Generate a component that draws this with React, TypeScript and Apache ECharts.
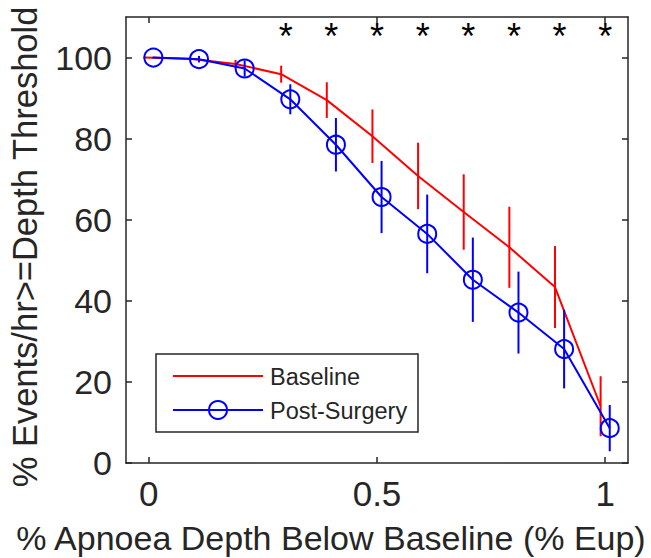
import React, { useEffect, useRef } from "react";
import * as echarts from "echarts";

// ---- data ----
const depths = [0, 0.1, 0.2, 0.3, 0.4, 0.5, 0.6, 0.7, 0.8, 0.9, 1.0];
const baselineMean = [100, 99.7, 98.4, 95.9, 89.5, 80.6, 70.8, 61.9, 53.2, 43.4, 14.0];
const baselineErr = [0.2, 0.4, 1.0, 2.1, 4.4, 6.6, 8.2, 9.3, 10.0, 10.1, 7.4];
const postMean = [100, 99.6, 97.3, 89.7, 78.5, 65.6, 56.5, 45.2, 37.1, 28.1, 8.6];
const postErr = [0.2, 0.8, 2.0, 3.7, 6.6, 8.9, 9.7, 10.4, 10.1, 9.7, 5.7];
const sigDepths = [0.3, 0.4, 0.5, 0.6, 0.7, 0.8, 0.9, 1.0];
const sigLevel = 105.2;
const xTicks = [0, 0.5, 1];
const yTicks = [0, 20, 40, 60, 80, 100];
const seriesNames = ["Baseline", "Post-Surgery"];

const FONT = "Liberation Sans, Arial, Helvetica, sans-serif";
const INK = "#262626";
const RED = "#ff0000";
const BLUE = "#0000ff";
const DODGE = 0.01;

export default function App() {
  const ref = useRef<HTMLDivElement>(null);

  useEffect(() => {
    if (!ref.current) return;
    const chart = echarts.init(ref.current, null, { renderer: "svg" });

    const redPts = depths.map((d, i) => [d - DODGE, baselineMean[i]]);
    const bluePts = depths.map((d, i) => [d + DODGE, postMean[i]]);
    const redBars = depths.map((d, i) => [d - DODGE, baselineMean[i] - baselineErr[i], baselineMean[i] + baselineErr[i]]);
    const blueBars = depths.map((d, i) => [d + DODGE, postMean[i] - postErr[i], postMean[i] + postErr[i]]);
    const stars = sigDepths.map((d) => [d, sigLevel]);

    const errRender = (color: string) => (params: any, api: any) => {
      const x = api.value(0);
      const p1 = api.coord([x, api.value(1)]);
      const p2 = api.coord([x, api.value(2)]);
      return {
        type: "line",
        shape: { x1: p1[0], y1: p1[1], x2: p2[0], y2: p2[1] },
        style: { stroke: color, lineWidth: 2 },
      };
    };

    const baseX = {
      type: "value",
      min: -0.05,
      max: 1.05,
      splitLine: { show: false },
      axisLine: { show: true, onZero: false, lineStyle: { color: INK, width: 1.5 } },
      axisTick: { show: true, inside: true, length: 6, customValues: xTicks, lineStyle: { color: INK, width: 1.5 } },
    };
    const baseY = {
      type: "value",
      min: 0,
      max: 110,
      splitLine: { show: false },
      axisLine: { show: true, onZero: false, lineStyle: { color: INK, width: 1.5 } },
      axisTick: { show: true, inside: true, length: 6, customValues: yTicks, lineStyle: { color: INK, width: 1.5 } },
    };

    chart.setOption({
      animation: false,
      backgroundColor: "#ffffff",
      textStyle: { fontFamily: FONT },
      grid: { left: 126, top: 17, right: 23, bottom: 95, containLabel: false, outerBoundsMode: "none" },
      xAxis: [
        {
          ...baseX,
          position: "bottom",
          axisLabel: {
            show: true,
            customValues: xTicks,
            formatter: (v: number) => String(v),
            color: INK,
            fontSize: 35,
            fontFamily: FONT,
            margin: 13,
          },
          name: "% Apnoea Depth Below Baseline (% Eup)",
          nameLocation: "middle",
          nameGap: 58,
          nameTextStyle: { color: INK, fontSize: 34, fontFamily: FONT, padding: [0, 92, 0, 0] },
        },
        { ...baseX, position: "top", axisLabel: { show: false } },
      ],
      yAxis: [
        {
          ...baseY,
          position: "left",
          axisLabel: {
            show: true,
            customValues: yTicks,
            formatter: (v: number) => String(v),
            color: INK,
            fontSize: 34,
            fontFamily: FONT,
            margin: 14,
          },
          name: "% Events/hr>=Depth Threshold",
          nameLocation: "middle",
          nameRotate: 90,
          nameGap: 84,
          nameTextStyle: { color: INK, fontSize: 34.5, fontFamily: FONT, padding: [0, 14, 0, 0] },
        },
        { ...baseY, position: "right", axisLabel: { show: false } },
      ],
      series: [
        {
          name: seriesNames[0],
          type: "line",
          data: redPts,
          symbol: "none",
          lineStyle: { color: RED, width: 2 },
          itemStyle: { color: RED },
          z: 2,
        },
        {
          type: "custom",
          name: seriesNames[0] + " error",
          data: redBars,
          renderItem: errRender(RED),
          z: 2,
        },
        {
          name: seriesNames[1],
          type: "line",
          data: bluePts,
          symbol: "circle",
          symbolSize: 18,
          showAllSymbol: true,
          lineStyle: { color: BLUE, width: 2 },
          itemStyle: { color: "transparent", borderColor: BLUE, borderWidth: 2 },
          z: 3,
        },
        {
          type: "custom",
          name: seriesNames[1] + " error",
          data: blueBars,
          renderItem: errRender(BLUE),
          z: 3,
        },
        {
          type: "custom",
          name: "significance",
          data: stars,
          renderItem: (params: any, api: any) => {
            const p = api.coord([api.value(0), api.value(1)]);
            return {
              type: "text",
              x: p[0],
              y: p[1],
              style: {
                text: "*",
                fill: "#000",
                fontSize: 36,
                fontFamily: FONT,
                align: "center",
                verticalAlign: "middle",
              },
            };
          },
          z: 4,
        },
      ],
      graphic: [
        {
          type: "group",
          z: 100,
          children: [
            {
              type: "rect",
              shape: { x: 156, y: 354, width: 262, height: 78 },
              style: { fill: "#ffffff", stroke: INK, lineWidth: 1.5 },
            },
            {
              type: "line",
              shape: { x1: 173, y1: 376, x2: 263, y2: 376 },
              style: { stroke: RED, lineWidth: 2 },
            },
            {
              type: "line",
              shape: { x1: 173, y1: 410, x2: 263, y2: 410 },
              style: { stroke: BLUE, lineWidth: 2 },
            },
            {
              type: "circle",
              shape: { cx: 218, cy: 410, r: 9 },
              style: { fill: "transparent", stroke: BLUE, lineWidth: 2 },
            },
            {
              type: "text",
              x: 270,
              y: 377,
              style: { text: seriesNames[0], fill: INK, fontSize: 23.5, fontFamily: FONT, verticalAlign: "middle" },
            },
            {
              type: "text",
              x: 270,
              y: 411,
              style: { text: seriesNames[1], fill: INK, fontSize: 23.5, fontFamily: FONT, verticalAlign: "middle" },
            },
          ],
        },
      ],
    });

    return () => chart.dispose();
  }, []);

  return (
    <div
      ref={ref}
      style={{ position: "fixed", left: 0, top: 0, width: 651, height: 558, background: "#fff" }}
    />
  );
}
